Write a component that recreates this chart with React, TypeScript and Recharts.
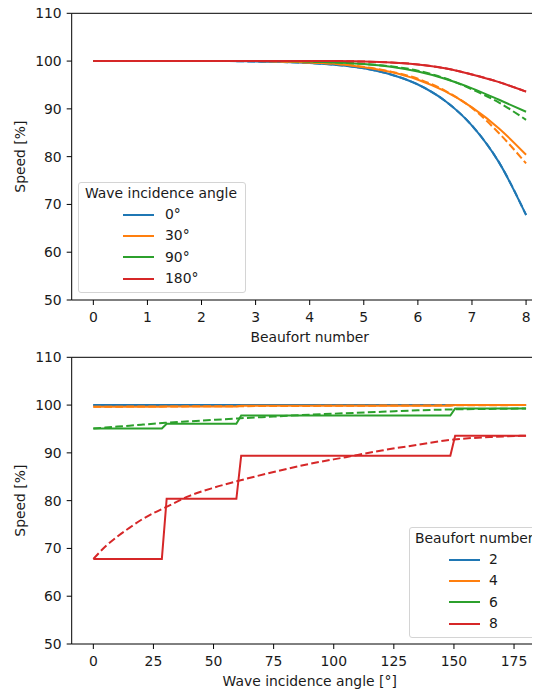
import React from 'react';
import { LineChart, Line, XAxis, YAxis, Legend, ReferenceLine } from 'recharts';

// top panel: speed vs Beaufort number, one curve per wave incidence angle
const beaufort = [0, 0.5, 1, 1.5, 2, 2.5, 3, 3.5, 4, 4.5, 5, 5.5, 6, 6.5, 7, 7.5, 8];
const speed0 = [100, 100, 100, 100, 100, 100, 99.9, 99.8, 99.6, 99.2, 98.5, 97.2, 95.1, 91.7, 86.5, 78.8, 67.8];
const speed30 = [100, 100, 100, 100, 100, 100, 100, 99.9, 99.7, 99.4, 98.7, 97.7, 96.1, 93.7, 90.3, 85.9, 80.4];
const speed90 = [100, 100, 100, 100, 100, 100, 100, 100, 99.9, 99.7, 99.4, 98.8, 97.8, 96.3, 94.3, 91.9, 89.4];
const speed180 = [100, 100, 100, 100, 100, 100, 100, 100, 100, 100, 99.9, 99.7, 99.3, 98.5, 97.2, 95.6, 93.6];
const speed30Interp = [100, 100, 100, 100, 100, 100, 100, 99.9, 99.7, 99.4, 98.8, 97.8, 96.3, 93.8, 90.2, 84.9, 78.6];
const speed90Interp = [100, 100, 100, 100, 100, 100, 100, 100, 99.9, 99.7, 99.4, 98.9, 98.0, 96.4, 94.1, 91.3, 87.7];
const angleLabels = ['0°', '30°', '90°', '180°'];
const beaufortTicks = [0, 1, 2, 3, 4, 5, 6, 7, 8];

// bottom panel: speed vs wave incidence angle, one curve per Beaufort number
const stepAngles = [0, 28.5, 30.5, 59.5, 61.5, 148.5, 150.5, 180];
const bn2Step = [100, 100, 100, 100, 100, 100, 100, 100];
const bn4Step = [99.65, 99.65, 99.7, 99.7, 99.85, 99.85, 100, 100];
const bn6Step = [95.1, 95.1, 96.1, 96.1, 97.8, 97.8, 99.3, 99.3];
const bn8Step = [67.8, 67.8, 80.4, 80.4, 89.4, 89.4, 93.6, 93.6];
const interpAngles = [0, 5, 10, 15, 20, 25, 30, 40, 50, 60, 75, 90, 105, 120, 135, 150, 165, 180];
const bn2Interp = [100, 100, 100, 100, 100, 100, 100, 100, 100, 100, 100, 100, 100, 100, 100, 100, 100, 100];
const bn4Interp = [99.65, 99.66, 99.67, 99.68, 99.69, 99.7, 99.71, 99.73, 99.75, 99.77, 99.8, 99.83, 99.86, 99.89, 99.92, 99.95, 99.98, 100];
const bn6Interp = [95.1, 95.3, 95.5, 95.7, 95.9, 96.1, 96.3, 96.6, 96.9, 97.2, 97.6, 98.0, 98.3, 98.6, 98.9, 99.1, 99.2, 99.3];
const bn8Interp = [67.8, 70.4, 72.5, 74.3, 76.0, 77.4, 78.6, 81.0, 82.7, 84.1, 86.0, 87.7, 89.1, 90.5, 91.7, 92.8, 93.3, 93.6];
const beaufortLabels = ['2', '4', '6', '8'];
const angleTicks = [0, 25, 50, 75, 100, 125, 150, 175];

const speedTicks = [50, 60, 70, 80, 90, 100, 110];

const colors = ['#1f77b4', '#ff7f0e', '#2ca02c', '#d62728'];
const font = '"DejaVu Sans", sans-serif';
const fs = 13.9;
const dash = '7.7 3.3';
const textColor = '#1a1a1a';

const topData = beaufort.map((bn, i) => ({
  bn,
  a0: speed0[i],
  a30: speed30[i],
  a90: speed90[i],
  a180: speed180[i],
  a0i: speed0[i],
  a30i: speed30Interp[i],
  a90i: speed90Interp[i],
  a180i: speed180[i],
}));

const toSeries = (xs: number[], ys: number[]) => xs.map((angle, i) => ({ angle, v: ys[i] }));
const bottomSeries = [
  { step: toSeries(stepAngles, bn2Step), interp: toSeries(interpAngles, bn2Interp) },
  { step: toSeries(stepAngles, bn4Step), interp: toSeries(interpAngles, bn4Interp) },
  { step: toSeries(stepAngles, bn6Step), interp: toSeries(interpAngles, bn6Interp) },
  { step: toSeries(stepAngles, bn8Step), interp: toSeries(interpAngles, bn8Interp) },
];

const tickStyle = { fill: textColor, fontSize: fs, fontFamily: font };
const labelStyle = { fill: textColor, fontSize: fs, fontFamily: font };

const LegendBox = ({ title, labels, width, titleLeft, lineLeft, gap }: any) => (
  <div
    style={{
      width,
      height: 111,
      boxSizing: 'border-box',
      border: '1px solid #d4d4d4',
      borderRadius: 3,
      background: 'rgba(255,255,255,0.85)',
      fontFamily: font,
      fontSize: fs,
      color: textColor,
      overflow: 'hidden',
    }}
  >
    <div style={{ paddingLeft: titleLeft, lineHeight: '21px', height: 21, whiteSpace: 'nowrap' }}>{title}</div>
    {labels.map((l: string, i: number) => (
      <div key={l} style={{ display: 'flex', alignItems: 'center', height: 21.3, paddingLeft: lineLeft }}>
        <svg width={31} height={4} style={{ display: 'block' }}>
          <line x1={0} y1={2} x2={31} y2={2} stroke={colors[i]} strokeWidth={2} />
        </svg>
        <span style={{ marginLeft: gap, lineHeight: '21px' }}>{l}</span>
      </div>
    ))}
  </div>
);

const axisCommon = {
  stroke: '#000',
  tickSize: 5,
  tick: tickStyle,
  allowDataOverflow: true,
};

const yLabel = {
  value: 'Speed [%]',
  angle: -90,
  position: 'insideLeft',
  offset: 20,
  ...labelStyle,
  style: { textAnchor: 'middle', ...labelStyle },
};

export default function App() {
  return (
    <div style={{ position: 'relative', width: 540, height: 692, margin: '-8px -8px 0 -8px', overflow: 'hidden', background: '#fff' }}>
      <div style={{ position: 'absolute', left: 0, top: 0 }}>
        <LineChart width={560} height={348} data={topData} margin={{ top: 13.3, right: 12.3, left: 0, bottom: 0 }}>
          <XAxis
            dataKey="bn"
            type="number"
            domain={[-0.4, 8.4]}
            ticks={beaufortTicks}
            height={48}
            tickMargin={7}
            {...axisCommon}
            label={{ value: 'Beaufort number', position: 'insideBottom', offset: 6.5, ...labelStyle, style: labelStyle }}
          />
          <YAxis type="number" domain={[50, 110]} ticks={speedTicks} width={71.7} tickMargin={5} {...axisCommon} label={yLabel} />
          <ReferenceLine y={110} stroke="#000" strokeWidth={1} />
          {['a0', 'a30', 'a90', 'a180'].map((k, i) => [
            <Line key={k} dataKey={k} type="monotone" stroke={colors[i]} strokeWidth={2} dot={false} activeDot={false} isAnimationActive={false} />,
            <Line key={k + 'i'} dataKey={k + 'i'} type="monotone" stroke={colors[i]} strokeWidth={2} strokeDasharray={dash} dot={false} activeDot={false} isAnimationActive={false} />,
          ])}
          <Legend
            layout="vertical"
            align="center"
            verticalAlign="middle"
            wrapperStyle={{ left: 78, top: 182, width: 168, height: 111 }}
            content={() => <LegendBox title="Wave incidence angle" labels={angleLabels} width={168} titleLeft={6} lineLeft={44} gap={11} />}
          />
        </LineChart>
      </div>
      <div style={{ position: 'absolute', left: 0, top: 344.4 }}>
        <LineChart width={560} height={348} margin={{ top: 13.3, right: 12.3, left: 0, bottom: 0 }}>
          <XAxis
            dataKey="angle"
            type="number"
            domain={[-9, 189]}
            ticks={angleTicks}
            height={48}
            tickMargin={7}
            {...axisCommon}
            label={{ value: 'Wave incidence angle [°]', position: 'insideBottom', offset: 6.5, ...labelStyle, style: labelStyle }}
          />
          <YAxis type="number" domain={[50, 110]} ticks={speedTicks} width={71.7} tickMargin={5} {...axisCommon} label={yLabel} />
          <ReferenceLine y={110} stroke="#000" strokeWidth={1} />
          {bottomSeries.map((s, i) => [
            <Line key={'s' + i} data={s.step} dataKey="v" type="linear" stroke={colors[i]} strokeWidth={2} dot={false} activeDot={false} isAnimationActive={false} />,
            <Line key={'d' + i} data={s.interp} dataKey="v" type="monotone" stroke={colors[i]} strokeWidth={2} strokeDasharray={dash} dot={false} activeDot={false} isAnimationActive={false} />,
          ])}
          <Legend
            layout="vertical"
            align="center"
            verticalAlign="middle"
            wrapperStyle={{ left: 409, top: 182.6, width: 133, height: 111 }}
            content={() => <LegendBox title="Beaufort number" labels={beaufortLabels} width={133} titleLeft={5} lineLeft={39} gap={9} />}
          />
        </LineChart>
      </div>
    </div>
  );
}
